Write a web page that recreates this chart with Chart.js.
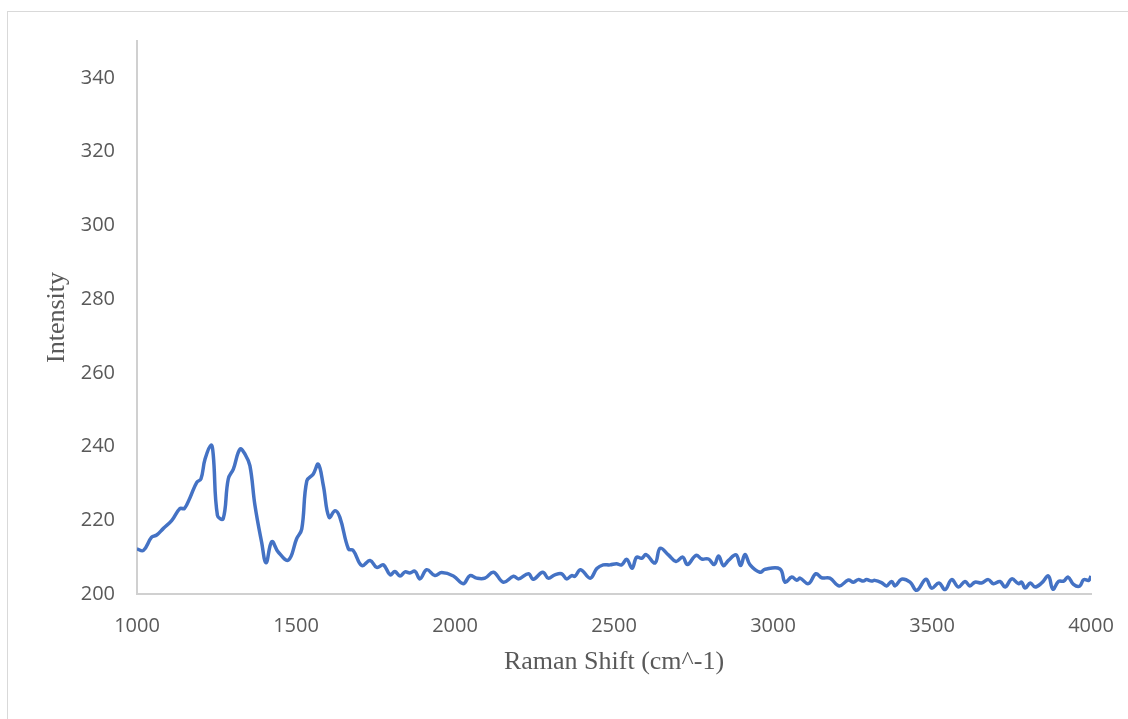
<!DOCTYPE html>
<html lang="en">
<head>
    <meta charset="UTF-8">
    <title>Raman Spectrum</title>
    <script src="https://cdn.jsdelivr.net/npm/chart.js"></script>
    <style>
        html, body {
            margin: 0;
            padding: 0;
            background: #fff;
            overflow: hidden;
        }

        .frame {
            position: absolute;
            left: 7px;
            top: 11px;
            width: 1200px;
            height: 800px;
            border-left: 1.5px solid #d9d9d9;
            border-top: 1.5px solid #d9d9d9;
        }

        .chart-box {
            position: absolute;
            left: 0;
            top: 0;
            width: 1128px;
            height: 719px;
        }
    </style>
</head>
<body>
    <div class="frame"></div>
    <div class="chart-box">
        <canvas id="myChart"></canvas>
    </div>

<script>
// Raman shift (cm^-1)
const shifts = [
    1000, 1020, 1046, 1062, 1083, 1109, 1135, 1149, 1167, 1188, 1201, 1214, 1233, 1240, 1253, 1271,
    1287, 1303, 1324, 1340, 1355, 1371, 1392, 1406, 1424, 1444, 1476, 1502, 1518, 1534, 1554, 1570,
    1586, 1604, 1623, 1638, 1665, 1680, 1707, 1733, 1754, 1775, 1796, 1811, 1827, 1843, 1858, 1874,
    1890, 1911, 1937, 1958, 1995, 2026, 2047, 2068, 2094, 2121, 2152, 2184, 2200, 2231, 2246, 2276,
    2293, 2314, 2335, 2351, 2367, 2377, 2395, 2425, 2446, 2466, 2487, 2508, 2524, 2540, 2557, 2571,
    2587, 2601, 2629, 2645, 2671, 2695, 2716, 2731, 2758, 2776, 2797, 2815, 2829, 2844, 2860, 2884,
    2898, 2912, 2928, 2959, 2975, 3022, 3038, 3059, 3075, 3085, 3111, 3135, 3153, 3179, 3208, 3237,
    3253, 3268, 3284, 3294, 3310, 3320, 3341, 3357, 3373, 3384, 3404, 3431, 3452, 3481, 3499, 3522,
    3541, 3562, 3583, 3604, 3619, 3635, 3656, 3677, 3693, 3714, 3730, 3751, 3772, 3782, 3793, 3809,
    3824, 3845, 3866, 3880, 3898, 3914, 3928, 3945, 3964, 3977, 3993, 4000
];

// intensity at each shift
const intensity = [
    212.2, 211.8, 215.4, 216.0, 217.8, 219.9, 223.2, 223.2, 226.2, 230.3, 231.2, 236.6, 240.4, 237.5, 221.3, 220.4,
    231.2, 233.9, 239.3, 237.9, 234.8, 224.0, 214.0, 208.5, 214.2, 211.4, 209.2, 215.0, 217.6, 230.7, 232.5, 235.2,
    229.4, 220.8, 222.6, 220.8, 212.2, 211.8, 207.7, 209.1, 207.2, 207.9, 205.2, 206.1, 204.9, 206.0, 205.7, 206.2,
    204.1, 206.6, 205.0, 205.8, 204.9, 202.8, 205.0, 204.3, 204.3, 205.9, 203.2, 204.8, 204.1, 205.5, 204.0, 205.9,
    204.3, 205.2, 205.5, 204.1, 205.0, 204.8, 206.6, 204.3, 206.9, 207.9, 207.9, 208.2, 207.9, 209.4, 207.0, 210.0,
    209.7, 210.7, 208.4, 212.4, 210.6, 208.8, 210.0, 208.0, 210.5, 209.5, 209.5, 208.0, 210.3, 207.7, 209.1, 210.6,
    207.7, 210.7, 207.9, 205.9, 206.7, 206.8, 203.2, 204.6, 203.7, 204.3, 202.8, 205.5, 204.4, 204.3, 202.2, 203.8,
    203.2, 203.9, 203.5, 203.9, 203.5, 203.7, 203.1, 202.2, 203.4, 202.2, 204.0, 203.2, 201.0, 204.0, 201.6, 203.0,
    201.2, 203.9, 201.9, 203.4, 202.2, 203.2, 203.0, 203.9, 202.8, 203.4, 201.9, 204.1, 202.8, 203.2, 201.6, 203.0,
    201.9, 203.0, 204.9, 201.3, 203.4, 203.5, 204.6, 202.6, 202.1, 203.9, 203.7, 204.9
];

// axis ticks
const xTicks = [1000, 1500, 2000, 2500, 3000, 3500, 4000];
const yTicks = [200, 220, 240, 260, 280, 300, 320, 340];

const axisColor = '#d0d0d0';
const labelColor = '#595959';

const ctx = document.getElementById('myChart').getContext('2d');
new Chart(ctx, {
    type: 'line',
    data: {
        datasets: [{
            label: 'Intensity',
            data: shifts.map((s, i) => ({ x: s, y: intensity[i] })),
            borderColor: '#4472C4',
            borderWidth: 3.5,
            pointRadius: 0,
            tension: 0.4,
            fill: false
        }]
    },
    options: {
        responsive: true,
        maintainAspectRatio: false,
        animation: false,
        layout: {
            padding: { top: 41, right: 37, bottom: 0, left: 0 }
        },
        plugins: {
            legend: { display: false },
            tooltip: { enabled: false }
        },
        scales: {
            x: {
                type: 'linear',
                min: 1000,
                max: 4000,
                afterBuildTicks: (axis) => { axis.ticks = xTicks.map(v => ({ value: v })); },
                afterFit: (scale) => {
                    scale.height = 125;
                    scale.paddingLeft = 0;
                    scale.paddingRight = 0;
                },
                grid: { display: false, drawTicks: false },
                border: { display: true, color: axisColor, width: 2 },
                ticks: {
                    padding: 20,
                    maxRotation: 0,
                    color: labelColor,
                    font: { family: 'Open Sans', size: 20 },
                    callback: (value) => String(value)
                },
                title: {
                    display: true,
                    text: 'Raman Shift (cm^-1)',
                    color: labelColor,
                    font: { family: 'Liberation Serif', size: 26 },
                    padding: { top: 0, bottom: 41 }
                }
            },
            y: {
                min: 200,
                max: 350,
                afterBuildTicks: (axis) => { axis.ticks = yTicks.map(v => ({ value: v })); },
                afterFit: (scale) => {
                    scale.width = 137;
                    scale.paddingTop = 0;
                    scale.paddingBottom = 0;
                },
                grid: { display: false, drawTicks: false },
                border: { display: true, color: axisColor, width: 2 },
                ticks: {
                    padding: 22,
                    color: labelColor,
                    font: { family: 'Open Sans', size: 20 }
                },
                title: {
                    display: true,
                    text: 'Intensity',
                    color: labelColor,
                    font: { family: 'Liberation Serif', size: 26 },
                    padding: { top: 42, bottom: 0 }
                }
            }
        }
    }
});
</script>
</body>
</html>
